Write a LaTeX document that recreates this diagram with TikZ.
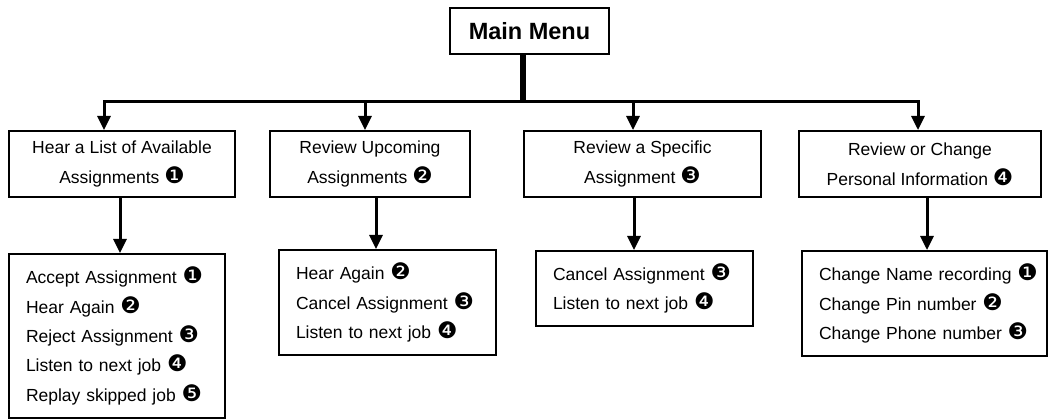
\documentclass[tikz,border=0pt]{standalone}
\usepackage{fontspec}
\setmainfont{Liberation Sans}
\newfontfamily\dingfont[Scale=1.3]{DejaVu Sans}
\usetikzlibrary{arrows.meta}
\newcommand\circnum[1]{{\dingfont #1}}

\begin{document}
\begin{tikzpicture}[x=1pt,y=-1pt,
    box/.style={draw,line width=2pt,inner sep=0pt,anchor=north west},
    optbox/.style={box,align=center,minimum height=66pt,
      font=\fontsize{17.5}{30}\selectfont},
    listbox/.style={box,align=left,inner xsep=17pt,
      font=\fontsize{17.5}{29.3}\selectfont},
    flow/.style={line width=3pt,-{Triangle[width=13pt,length=14pt]}}]
  \useasboundingbox (0,0) rectangle (1052,419);
  % Main menu
  \node[box,minimum width=159pt,minimum height=46pt,
    font=\fontsize{23.5}{26}\selectfont\bfseries] (menu) at (449,7) {Main Menu};
  % Options of the main menu
  \node[optbox,minimum width=226pt] (opt1) at (8,130)
    {Hear a List of Available\\Assignments \circnum{❶}};
  \node[optbox,minimum width=200pt] (opt2) at (269,130)
    {Review Upcoming\\Assignments \circnum{❷}};
  \node[optbox,minimum width=237pt] (opt3) at (523,130)
    {Review a Specific\\Assignment \circnum{❸}};
  \node[optbox,minimum width=242pt] (opt4) at (798,130)
    {Review or Change\\Personal Information \circnum{❹}};
  % Sub menus
  \node[listbox,text width=182pt,minimum height=164pt] (sub1) at (8,253)
    {Accept Assignment \circnum{❶}\\Hear Again \circnum{❷}\\Reject Assignment \circnum{❸}\\
     Listen to next job \circnum{❹}\\Replay skipped job \circnum{❺}};
  \node[listbox,text width=183pt,minimum height=105pt] (sub2) at (278,249)
    {Hear Again \circnum{❷}\\Cancel Assignment \circnum{❸}\\Listen to next job \circnum{❹}};
  \node[listbox,text width=183pt,minimum height=75pt] (sub3) at (535,250)
    {Cancel Assignment \circnum{❸}\\Listen to next job \circnum{❹}};
  \node[listbox,text width=211pt,minimum height=105pt] (sub4) at (801,250)
    {\mbox{Change Name recording \circnum{❶}}\\Change Pin number \circnum{❷}\\Change Phone number \circnum{❸}};
  % Bus line
  \coordinate (bus) at (523,102);
  \coordinate (j1) at (104,102);
  \coordinate (j2) at (365,102);
  \coordinate (j3) at (633,102);
  \coordinate (j4) at (918,102);
  \draw[line width=6pt] (menu.south -| bus) -- (bus);
  \draw[line width=3pt,line cap=rect] (j1) -- (j4);
  \foreach \i in {1,...,4}
    \draw[flow] (j\i) -- (j\i |- opt\i.north);
  % Down arrows
  \coordinate (d1) at (120,0);
  \coordinate (d2) at (376,0);
  \coordinate (d3) at (634,0);
  \coordinate (d4) at (927,0);
  \foreach \i in {1,...,4}
    \draw[flow] (d\i |- opt\i.south) -- (d\i |- sub\i.north);
\end{tikzpicture}
\end{document}
